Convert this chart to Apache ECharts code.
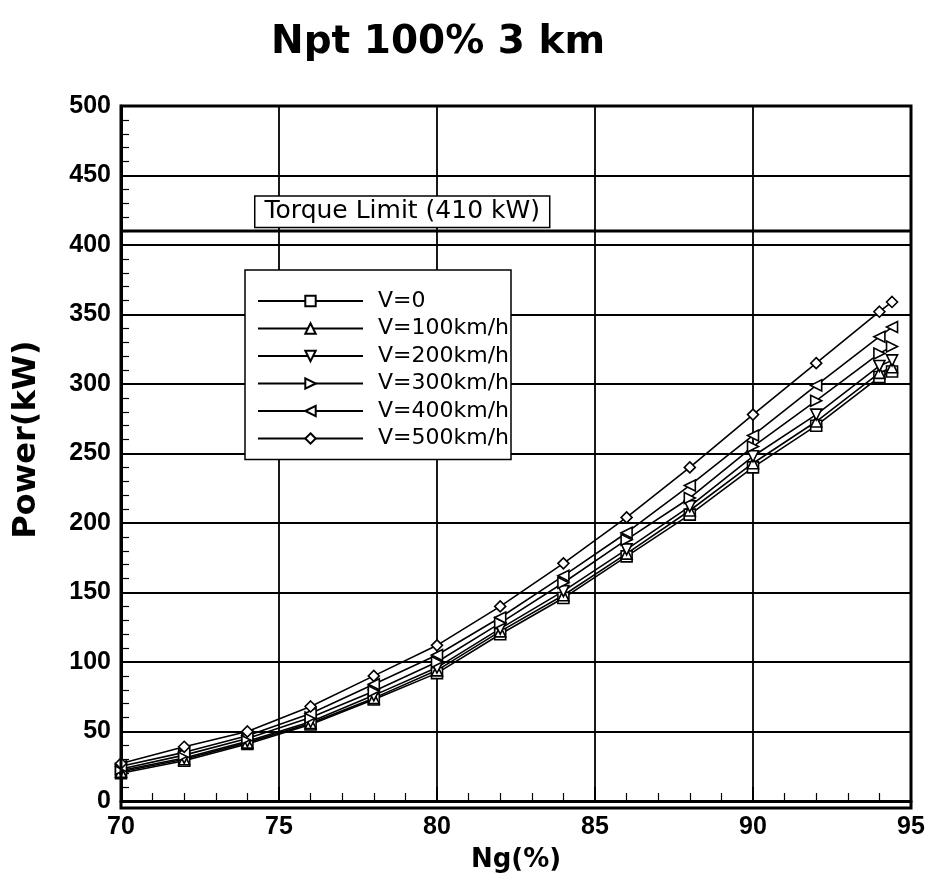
<!DOCTYPE html>
<html>
<head>
<meta charset="utf-8">
<script src="https://cdn.jsdelivr.net/npm/echarts@6/dist/echarts.min.js"></script>
<style>
  html, body { margin: 0; padding: 0; background: #fff; }
  #chart { width: 934px; height: 878px; }
</style>
</head>
<body>
<div id="chart"></div>
<script>
// Ng values (%) where each curve is sampled
const ng = [70, 72, 74, 76, 78, 80, 82, 84, 86, 88, 90, 92, 94, 94.4];

// power (kW), one list per flight speed
const v0   = [20, 29, 41, 55, 73, 92, 120, 146, 176, 206, 240, 270, 305, 309];
const v100 = [21, 30, 42, 56, 74, 94, 122, 148, 178, 209, 243, 273, 308, 312];
const v200 = [22, 31, 43, 57, 76, 96, 124, 151, 181, 212, 248, 278, 313, 317];
const v300 = [23, 33, 45, 60, 79, 100, 128, 157, 188, 218, 255, 288, 322, 327];
const v400 = [25, 35, 47, 63, 84, 105, 132, 162, 193, 227, 263, 299, 334, 341];
const v500 = [27, 39, 50, 68, 90, 112, 140, 171, 204, 240, 278, 315, 352, 359];

const names = ['V=0', 'V=100km/h', 'V=200km/h', 'V=300km/h', 'V=400km/h', 'V=500km/h'];
const torqueLimit = 410;
const torqueText = 'Torque Limit (410 kW)';

let chartElement = document.getElementById('chart');
let chart = echarts.init(chartElement);

const font = 'Liberation Sans, Arial, sans-serif';
const wide = 'DejaVu Sans, sans-serif';

function makeSeries(name, values, symbol, rotate) {
    return {
        name: name,
        type: 'line',
        data: ng.map((x, i) => [x, values[i]]),
        symbol: symbol,
        symbolSize: 11,
        symbolRotate: rotate,
        showAllSymbol: true,
        lineStyle: { color: '#000', width: 1.6 },
        itemStyle: { color: '#fff', borderColor: '#000', borderWidth: 1.6 },
        emphasis: { disabled: true },
        z: 3
    };
}

let series = [
    makeSeries(names[0], v0, 'rect', 0),
    makeSeries(names[1], v100, 'triangle', 0),
    makeSeries(names[2], v200, 'triangle', 180),
    makeSeries(names[3], v300, 'triangle', -90),
    makeSeries(names[4], v400, 'triangle', 90),
    makeSeries(names[5], v500, 'diamond', 0)
];

// torque limit line with its boxed label
series.push({
    name: 'torque',
    type: 'line',
    data: [[70, torqueLimit], [95, torqueLimit]],
    symbol: 'none',
    silent: true,
    lineStyle: { color: '#000', width: 3 },
    z: 4,
    markPoint: {
        silent: true,
        symbol: 'rect',
        symbolSize: 1,
        itemStyle: { color: 'rgba(0,0,0,0)' },
        data: [{ coord: [78.9, 424] }],
        label: {
            show: true,
            position: 'inside',
            formatter: torqueText,
            color: '#000',
            fontFamily: wide,
            fontSize: 25,
            backgroundColor: '#fff',
            borderColor: '#000',
            borderWidth: 1.5,
            padding: [3, 9, 2, 9]
        }
    }
});

let option = {
    animation: false,
    backgroundColor: '#fff',
    title: {
        text: 'Npt 100% 3 km',
        left: 266,
        top: 18,
        textStyle: { fontFamily: wide, fontSize: 39, fontWeight: 'bold', color: '#000' }
    },
    grid: { left: 121, right: 23, top: 106, bottom: 70 },
    legend: {
        data: names,
        orient: 'vertical',
        left: 245,
        top: 270,
        itemWidth: 105,
        itemHeight: 13,
        itemGap: 5.5,
        padding: [20, 2, 10, 12],
        backgroundColor: '#fff',
        borderColor: '#000',
        borderWidth: 1.5,
        borderRadius: 0,
        textStyle: { fontFamily: wide, fontSize: 22, lineHeight: 20, color: '#000', padding: [0, 0, 0, 10] }
    },
    xAxis: {
        type: 'value',
        min: 70,
        max: 95,
        interval: 5,
        name: 'Ng(%)',
        nameLocation: 'middle',
        nameGap: 46,
        nameTextStyle: { fontFamily: wide, fontSize: 26, fontWeight: 'bold', color: '#000' },
        axisLine: { show: true, lineStyle: { color: '#000', width: 3 } },
        axisTick: { inside: true, length: 14, lineStyle: { color: '#000', width: 2 } },
        minorTick: { show: true, splitNumber: 5, length: 8, lineStyle: { color: '#000', width: 1.2 } },
        splitLine: { show: true, lineStyle: { color: '#000', width: 1.8 } },
        axisLabel: { fontFamily: font, fontSize: 25, fontWeight: 'bold', color: '#000', margin: 14 }
    },
    yAxis: {
        type: 'value',
        min: 0,
        max: 500,
        interval: 50,
        name: 'Power(kW)',
        nameLocation: 'middle',
        nameGap: 78,
        nameTextStyle: { fontFamily: wide, fontSize: 32, fontWeight: 'bold', color: '#000', padding: [0, 0, 0, 28] },
        axisLine: { show: true, lineStyle: { color: '#000', width: 3 } },
        axisTick: { inside: true, length: 14, lineStyle: { color: '#000', width: 2 } },
        minorTick: { show: true, splitNumber: 5, length: 8, lineStyle: { color: '#000', width: 1.2 } },
        splitLine: { show: true, lineStyle: { color: '#000', width: 1.8 } },
        axisLabel: { fontFamily: font, fontSize: 25, fontWeight: 'bold', color: '#000', margin: 10 }
    },
    graphic: [{
        type: 'rect',
        shape: { x: 121, y: 106, width: 790, height: 702 },
        style: { fill: 'none', stroke: '#000', lineWidth: 3 },
        silent: true,
        z: 10
    }],
    series: series
};

chart.setOption(option);
</script>
</body>
</html>
